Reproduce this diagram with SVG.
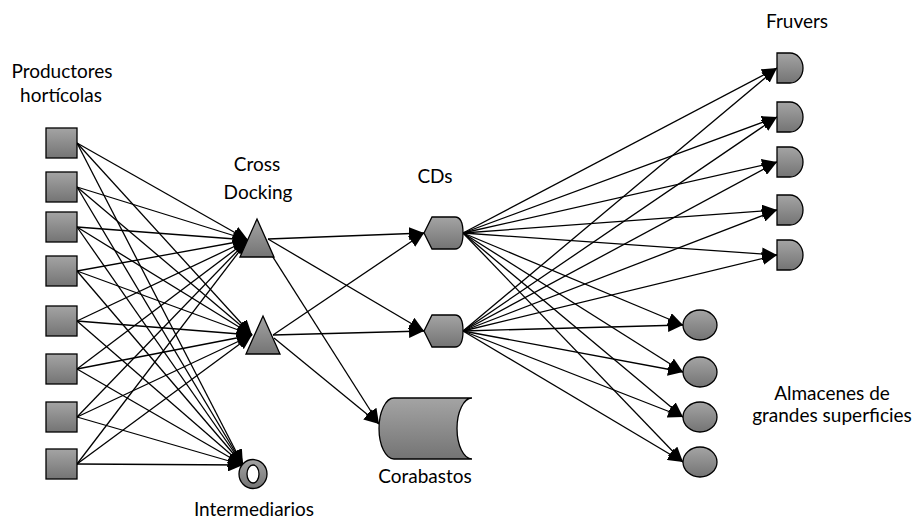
<svg xmlns="http://www.w3.org/2000/svg" width="918" height="524" viewBox="0 0 918 524">
  <defs>
    <linearGradient id="gray" x1="0" y1="0" x2="0" y2="1">
      <stop offset="0" stop-color="#a4a4a4"/>
      <stop offset="1" stop-color="#747474"/>
    </linearGradient>
    <marker id="arrow" markerUnits="userSpaceOnUse" markerWidth="15" markerHeight="13" refX="15" refY="6.5" orient="auto">
      <path d="M0,0 L15,6.5 L0,13 Z" fill="#000"/>
    </marker>
  </defs>
  <style>
    .node { fill: url(#gray); stroke: #000; stroke-width: 1.3; }
    .hole { fill: #fff; stroke: #000; stroke-width: 1.3; }
    .edge { stroke: #000; stroke-width: 1.3; fill: none; marker-end: url(#arrow); }
    .lbl { font-family: Lato, "Liberation Sans", sans-serif; font-size: 19px; fill: #000; text-anchor: middle; }
  </style>
  <rect width="918" height="524" fill="#fff"/>

  <!-- connectors -->
  <g id="connectors">
    <!-- producers to cross docking 1 -->
    <line class="edge" x1="77" y1="143" x2="248" y2="240"/>
    <line class="edge" x1="77" y1="187" x2="248" y2="240"/>
    <line class="edge" x1="77" y1="227" x2="248" y2="240"/>
    <line class="edge" x1="77" y1="271" x2="248" y2="240"/>
    <line class="edge" x1="77" y1="321" x2="248" y2="240"/>
    <line class="edge" x1="77" y1="369" x2="248" y2="240"/>
    <line class="edge" x1="77" y1="417" x2="248" y2="240"/>
    <line class="edge" x1="77" y1="464" x2="248" y2="240"/>
    <!-- producers to cross docking 2 -->
    <line class="edge" x1="77" y1="143" x2="252" y2="335"/>
    <line class="edge" x1="77" y1="187" x2="252" y2="335"/>
    <line class="edge" x1="77" y1="227" x2="252" y2="335"/>
    <line class="edge" x1="77" y1="271" x2="252" y2="335"/>
    <line class="edge" x1="77" y1="321" x2="252" y2="335"/>
    <line class="edge" x1="77" y1="369" x2="252" y2="335"/>
    <line class="edge" x1="77" y1="417" x2="252" y2="335"/>
    <line class="edge" x1="77" y1="464" x2="252" y2="335"/>
    <!-- producers to intermediarios -->
    <line class="edge" x1="77" y1="143" x2="243" y2="465"/>
    <line class="edge" x1="77" y1="187" x2="243" y2="465"/>
    <line class="edge" x1="77" y1="227" x2="243" y2="465"/>
    <line class="edge" x1="77" y1="271" x2="243" y2="465"/>
    <line class="edge" x1="77" y1="321" x2="243" y2="465"/>
    <line class="edge" x1="77" y1="369" x2="243" y2="465"/>
    <line class="edge" x1="77" y1="417" x2="243" y2="465"/>
    <line class="edge" x1="77" y1="464" x2="243" y2="465"/>
    <!-- cross docking to CDs and Corabastos -->
    <line class="edge" x1="268" y1="239" x2="424" y2="233"/>
    <line class="edge" x1="268" y1="239" x2="424" y2="331"/>
    <line class="edge" x1="264" y1="243" x2="379" y2="424"/>
    <line class="edge" x1="273" y1="335" x2="424" y2="233"/>
    <line class="edge" x1="273" y1="335" x2="424" y2="331"/>
    <line class="edge" x1="274" y1="338" x2="379" y2="424"/>
    <!-- CD 1 to fruvers -->
    <line class="edge" x1="463" y1="233" x2="777" y2="68"/>
    <line class="edge" x1="463" y1="233" x2="777" y2="117"/>
    <line class="edge" x1="463" y1="233" x2="777" y2="162"/>
    <line class="edge" x1="463" y1="233" x2="777" y2="210"/>
    <line class="edge" x1="463" y1="233" x2="777" y2="255"/>
    <!-- CD 2 to fruvers -->
    <line class="edge" x1="463" y1="331" x2="777" y2="68"/>
    <line class="edge" x1="463" y1="331" x2="777" y2="117"/>
    <line class="edge" x1="463" y1="331" x2="777" y2="162"/>
    <line class="edge" x1="463" y1="331" x2="777" y2="210"/>
    <line class="edge" x1="463" y1="331" x2="777" y2="255"/>
    <!-- CD 1 to almacenes -->
    <line class="edge" x1="463" y1="233" x2="683" y2="325"/>
    <line class="edge" x1="463" y1="233" x2="683" y2="372"/>
    <line class="edge" x1="463" y1="233" x2="683" y2="417"/>
    <line class="edge" x1="463" y1="233" x2="683" y2="462"/>
    <!-- CD 2 to almacenes -->
    <line class="edge" x1="463" y1="331" x2="683" y2="325"/>
    <line class="edge" x1="463" y1="331" x2="683" y2="372"/>
    <line class="edge" x1="463" y1="331" x2="683" y2="417"/>
    <line class="edge" x1="463" y1="331" x2="683" y2="462"/>
  </g>

  <!-- producers -->
  <g id="productores">
    <text class="lbl" x="62" y="78">Productores</text>
    <text class="lbl" x="61" y="102">hortícolas</text>
    <rect class="node" x="46" y="128" width="31" height="30"/>
    <rect class="node" x="46" y="172" width="31" height="30"/>
    <rect class="node" x="46" y="212" width="31" height="30"/>
    <rect class="node" x="46" y="256" width="31" height="30"/>
    <rect class="node" x="46" y="306" width="31" height="30"/>
    <rect class="node" x="46" y="354" width="31" height="30"/>
    <rect class="node" x="46" y="402" width="31" height="30"/>
    <rect class="node" x="46" y="449" width="31" height="30"/>
  </g>

  <!-- cross docking -->
  <g id="cross-docking">
    <text class="lbl" x="257" y="171">Cross</text>
    <text class="lbl" x="258" y="199">Docking</text>
    <polygon class="node" points="257,219 274,257 240,257"/>
    <polygon class="node" points="263,316 280,354 246,354"/>
  </g>

  <!-- intermediarios -->
  <g id="intermediarios">
    <ellipse class="node" cx="253" cy="474" rx="14" ry="14.5"/>
    <ellipse class="hole" cx="253" cy="474" rx="6" ry="9"/>
    <text class="lbl" x="254" y="516">Intermediarios</text>
  </g>

  <!-- distribution centres -->
  <g id="cds">
    <text class="lbl" x="435" y="183">CDs</text>
    <path class="node" d="M424,233 L432,217 H455 C461,217 463,225 463,233 C463,241 461,249 455,249 H432 Z"/>
    <path class="node" d="M424,331 L432,315 H455 C461,315 463,323 463,331 C463,339 461,347 455,347 H432 Z"/>
  </g>

  <!-- corabastos -->
  <g id="corabastos">
    <path class="node" d="M394,398 L472,398 A15,30.5 0 0 0 472,459 L394,459 A15,30.5 0 0 1 394,398 Z"/>
    <text class="lbl" x="425" y="483">Corabastos</text>
  </g>

  <!-- fruvers -->
  <g id="fruvers">
    <text class="lbl" x="797" y="28">Fruvers</text>
    <path class="node" d="M777,53 H790 A13,15 0 0 1 790,83 H777 Z"/>
    <path class="node" d="M777,102 H790 A13,15 0 0 1 790,132 H777 Z"/>
    <path class="node" d="M777,147 H790 A13,15 0 0 1 790,177 H777 Z"/>
    <path class="node" d="M777,195 H790 A13,15 0 0 1 790,225 H777 Z"/>
    <path class="node" d="M777,240 H790 A13,15 0 0 1 790,270 H777 Z"/>
  </g>

  <!-- almacenes -->
  <g id="almacenes">
    <ellipse class="node" cx="700" cy="325" rx="17" ry="15"/>
    <ellipse class="node" cx="700" cy="372" rx="17" ry="15"/>
    <ellipse class="node" cx="700" cy="417" rx="17" ry="15"/>
    <ellipse class="node" cx="700" cy="462" rx="17" ry="15"/>
    <text class="lbl" x="832" y="400">Almacenes de</text>
    <text class="lbl" x="832" y="422">grandes superficies</text>
  </g>
</svg>
